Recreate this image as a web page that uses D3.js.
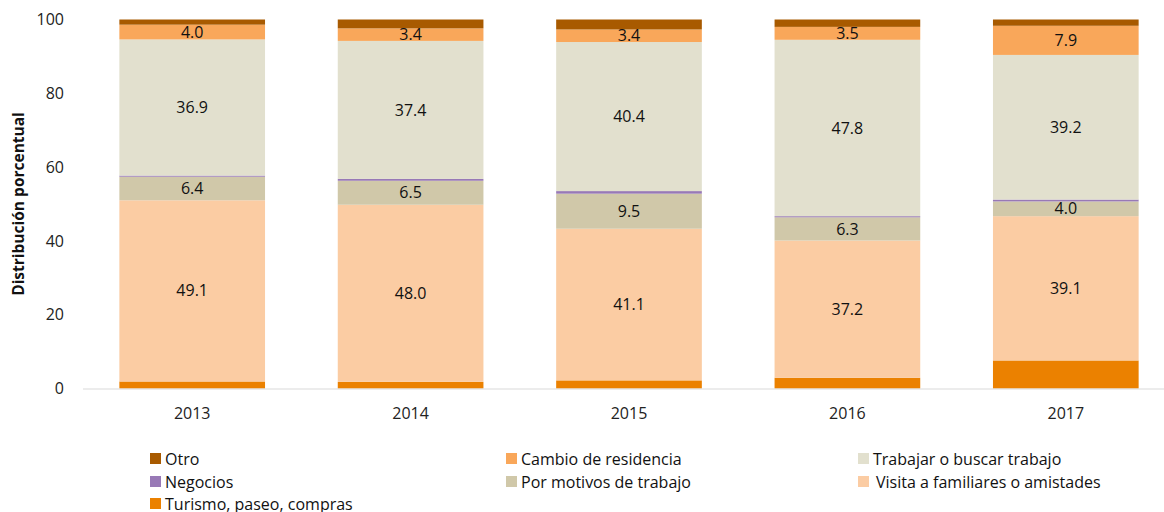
<!DOCTYPE html>
<html>
<head>
<meta charset="utf-8">
<script src="https://cdn.jsdelivr.net/npm/d3@7"></script>
<style>
  body { margin: 0; background: #fff; }
  svg { font-family: "Open Sans", sans-serif; }
</style>
</head>
<body>
<div id="chart"></div>
<script>
// years on the x axis
var years = ["2013", "2014", "2015", "2016", "2017"];

// one array per reason, bottom to top of the stack
var turismo   = [1.9, 1.8, 2.2, 2.9, 7.6];
var visita    = [49.1, 48.0, 41.1, 37.2, 39.1];
var motivos   = [6.4, 6.5, 9.5, 6.3, 4.0];
var negocios  = [0.3, 0.5, 0.7, 0.3, 0.5];
var trabajar  = [36.9, 37.4, 40.4, 47.8, 39.2];
var cambio    = [4.0, 3.4, 3.4, 3.5, 7.9];
var otro      = [1.4, 2.4, 2.7, 2.0, 1.7];

var yTicks = [0, 20, 40, 60, 80, 100];

var series = [
  { key: "turismo",  label: "Turismo, paseo, compras",         values: turismo,  color: "#EB8100", showLabel: false },
  { key: "visita",   label: "Visita a familiares o amistades", values: visita,   color: "#FBCCA3", showLabel: true },
  { key: "motivos",  label: "Por motivos de trabajo",          values: motivos,  color: "#D0C8A9", showLabel: true },
  { key: "negocios", label: "Negocios",                        values: negocios, color: "#9879B6", showLabel: false },
  { key: "trabajar", label: "Trabajar o buscar trabajo",       values: trabajar, color: "#E2E0CE", showLabel: true },
  { key: "cambio",   label: "Cambio de residencia",            values: cambio,   color: "#F9A75A", showLabel: true },
  { key: "otro",     label: "Otro",                            values: otro,     color: "#A85A00", showLabel: false }
];

// legend order as it reads left to right, row by row
var legendOrder = ["otro", "cambio", "trabajar", "negocios", "motivos", "visita", "turismo"];

var w = 1164;
var h = 512;
var plotLeft = 83, plotRight = 1175, plotTop = 19.5, plotBottom = 388.5;

var svg = d3.select("#chart").append("svg")
  .attr("width", w)
  .attr("height", h);

var x = d3.scaleBand()
  .domain(years)
  .range([plotLeft, plotRight])
  .paddingInner(0.333)
  .paddingOuter(0.1665);

var y = d3.scaleLinear()
  .domain([0, 100])
  .range([plotBottom, plotTop]);

// build table for the stack
var table = years.map(function(yr, i) {
  var row = { year: yr };
  series.forEach(function(s) { row[s.key] = s.values[i]; });
  return row;
});

var stack = d3.stack().keys(series.map(function(s) { return s.key; }));
var layers = stack(table);

// y axis labels (no line, no ticks)
var yAxis = svg.append("g")
  .attr("transform", "translate(" + plotLeft + ",0)")
  .call(d3.axisLeft(y).tickValues(yTicks).tickSize(0).tickPadding(19));
yAxis.select(".domain").remove();
yAxis.selectAll("text")
  .attr("font-size", 16)
  .attr("font-family", "'Open Sans', sans-serif")
  .attr("fill", "#222");

// axis title
svg.append("text")
  .attr("transform", "translate(19," + ((plotTop + plotBottom) / 2) + ") rotate(-90)")
  .attr("text-anchor", "middle")
  .attr("dy", "0.35em")
  .attr("font-size", 15.5)
  .attr("font-weight", "bold")
  .attr("fill", "#111")
  .text("Distribución porcentual");

// bars
var groups = svg.selectAll("g.layer")
  .data(layers)
  .enter()
  .append("g")
  .attr("class", "layer")
  .attr("fill", function(d, i) { return series[i].color; });

groups.selectAll("rect")
  .data(function(d) { return d; })
  .enter()
  .append("rect")
  .attr("x", function(d) { return x(d.data.year); })
  .attr("width", x.bandwidth())
  .attr("y", function(d) { return y(d[1]); })
  .attr("height", function(d) { return y(d[0]) - y(d[1]); });

// x axis line
svg.append("line")
  .attr("x1", plotLeft).attr("x2", plotRight)
  .attr("y1", plotBottom + 0.5).attr("y2", plotBottom + 0.5)
  .attr("stroke", "#d9d9d9")
  .attr("stroke-width", 1);

// x labels
svg.selectAll("text.xlab")
  .data(years)
  .enter()
  .append("text")
  .attr("class", "xlab")
  .attr("x", function(d) { return x(d) + x.bandwidth() / 2; })
  .attr("y", 419)
  .attr("text-anchor", "middle")
  .attr("font-size", 16)
  .attr("fill", "#222")
  .text(function(d) { return d; });

// data labels
layers.forEach(function(layer, i) {
  if (!series[i].showLabel) return;
  svg.selectAll("text.lab-" + series[i].key)
    .data(layer)
    .enter()
    .append("text")
    .attr("class", "lab-" + series[i].key)
    .attr("x", function(d) { return x(d.data.year) + x.bandwidth() / 2; })
    .attr("y", function(d) { return (y(d[0]) + y(d[1])) / 2; })
    .attr("dy", "0.35em")
    .attr("text-anchor", "middle")
    .attr("font-size", 16)
    .attr("fill", "#111")
    .text(function(d, j) { return series[i].values[j].toFixed(1); });
});

// legend
var colX = [150, 506, 858];
var rowY = [459, 482, 504];
var legend = svg.append("g");
legendOrder.forEach(function(k, i) {
  var s = series.find(function(e) { return e.key == k; });
  var cx = colX[i % 3];
  var cy = rowY[Math.floor(i / 3)];
  legend.append("rect")
    .attr("x", cx)
    .attr("y", cy - 6)
    .attr("width", 11)
    .attr("height", 11)
    .attr("fill", s.color);
  legend.append("text")
    .attr("x", cx + (k == "visita" ? 18 : 15))
    .attr("y", cy)
    .attr("dy", "0.35em")
    .attr("font-size", 16)
    .attr("fill", "#111")
    .text(s.label);
});
</script>
</body>
</html>
